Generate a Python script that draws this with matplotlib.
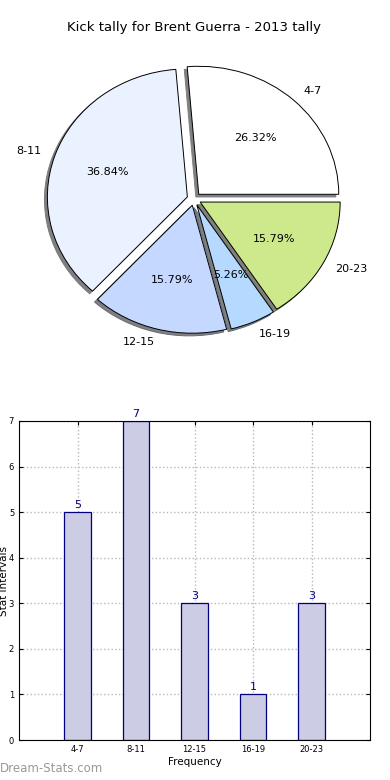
import numpy as np
import matplotlib
matplotlib.use("Agg")
import matplotlib.pyplot as plt

##############################################
# data
categories = ['4-7', '8-11', '12-15', '16-19', '20-23']
kicks = [5, 7, 3, 1, 3]
pie_colors = ['#ffffff', '#eaf1ff', '#c5d8ff', '#b5d9ff', '#cee98b']
title = "Kick tally for Brent Guerra - 2013 tally"

fig = plt.figure(figsize=(3.9, 7.8), dpi=100)

##############################################
# pie
ax1 = fig.add_axes([19/390, 421/780, 350/390, 320/780])
wedges, texts, autotexts = ax1.pie(kicks, labels=categories, colors=pie_colors,
                                   explode=[0.05]*len(kicks),
                                   shadow={'ox': -0.015, 'oy': -0.015, 'shade': 0.5,
                                           'alpha': 1.0, 'facecolor': '#808080'},
                                   autopct='%1.2f%%', startangle=0,
                                   wedgeprops={'edgecolor': 'black', 'linewidth': 0.7},
                                   textprops={'fontsize': 8})
ax1.set_aspect('auto')
ax1.set_xlim(-1.25, 1.25)
ax1.set_ylim(-1.25, 1.25)
ax1.set_title(title, fontsize=9.5, pad=6)

##############################################
# bars
ax2 = fig.add_axes([19/390, 40/780, 351/390, 319/780])
x = np.arange(len(categories))
ax2.bar(x, kicks, width=0.45, color='#cccce5', edgecolor='#000080', linewidth=0.9, zorder=2)
for xi, v in zip(x, kicks):
    ax2.text(xi, v + 0.05, str(v), ha='center', va='bottom', color='#000080', fontsize=8)
ax2.set_xlim(-1, 5)
ax2.set_ylim(0, 7)
ax2.set_xticks(x)
ax2.set_xticklabels(categories)
ax2.set_yticks(range(8))
ax2.tick_params(labelsize=6, direction='in', top=True, right=True, length=3)
ax2.grid(True, linestyle=':', color='#b8b8b8', linewidth=1, zorder=0)
ax2.set_axisbelow(True)
ax2.set_xlabel("Frequency", fontsize=7.5, labelpad=2)
ax2.set_ylabel("Stat Intervals", fontsize=7.5)
ax2.yaxis.set_label_coords(-0.028, 0.5)

fig.text(0.0, 0.006, "Dream-Stats.com", color='#999999', fontsize=8.5, ha='left', va='bottom')

fig.savefig("out.png", dpi=100)
